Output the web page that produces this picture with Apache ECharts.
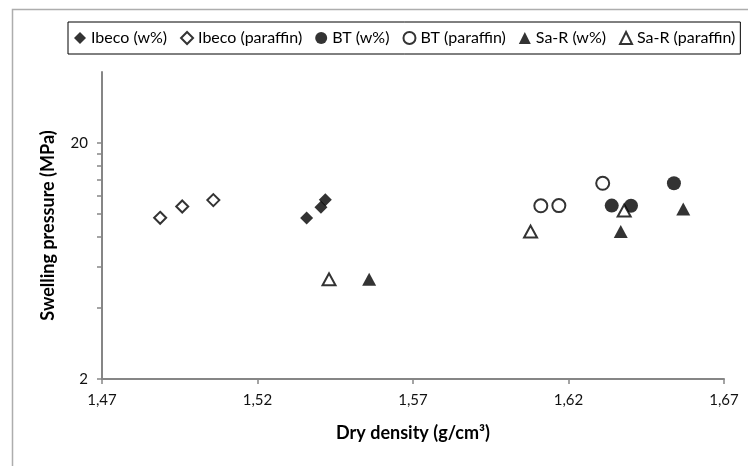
<!DOCTYPE html>
<html>
<head>
<meta charset="utf-8">
<script src="https://cdn.jsdelivr.net/npm/echarts@6/dist/echarts.min.js"></script>
<style>
  html, body { margin: 0; padding: 0; background: #fff; }
  #chart { width: 748px; height: 466px; }
</style>
</head>
<body>
<div id="chart"></div>
<script>
// Dry density (g/cm3) and swelling pressure (MPa) per material / method
const ibecoWX = [1.5358, 1.5404, 1.5418];
const ibecoWY = [9.62, 10.7, 11.5];
const ibecoPX = [1.4887, 1.4958, 1.5058];
const ibecoPY = [9.64, 10.77, 11.46];
const btWX = [1.6339, 1.6401, 1.6539];
const btWY = [10.86, 10.84, 13.5];
const btPX = [1.6111, 1.6169, 1.6310];
const btPY = [10.84, 10.86, 13.5];
const sarWX = [1.5559, 1.6368, 1.6569];
const sarWY = [5.29, 8.43, 10.5];
const sarPX = [1.5430, 1.6078, 1.6379];
const sarPY = [5.29, 8.43, 10.35];

const yLabels = [2, 20];
const yTicks = [2, 4, 6, 8, 10, 12, 14, 16, 18, 20];

const FONT = 'Lato';
const zip = (xs, ys) => xs.map((x, i) => [x, ys[i]]);

const filled = { color: '#000', borderColor: '#000', borderWidth: 0 };
const hollow = { color: '#fff', borderColor: '#000', borderWidth: 2 };

function scatter(name, xs, ys, symbol, size, style) {
  return {
    name, type: 'scatter', symbol, symbolSize: size,
    data: zip(xs, ys), itemStyle: style, emphasis: { disabled: true }
  };
}

const chart = echarts.init(document.getElementById('chart'));
chart.setOption({
  animation: false,
  textStyle: { fontFamily: FONT },
  graphic: [{
    type: 'rect', left: 10, top: 7,
    shape: { width: 760, height: 480 },
    style: { fill: 'none', stroke: '#adadad', lineWidth: 1.5 },
    silent: true
  }],
  legend: {
    left: 68, top: 22,
    padding: [8, 5, 8, 6],
    itemGap: 13,
    itemWidth: 12, itemHeight: 12,
    borderColor: '#000', borderWidth: 1,
    textStyle: { fontFamily: FONT, fontSize: 16, color: '#000' },
    data: ['Ibeco (w%)', 'Ibeco (paraffin)', 'BT (w%)', 'BT (paraffin)', 'Sa-R (w%)', 'Sa-R (paraffin)']
  },
  grid: { left: 102, top: 72, right: 24, bottom: 87 },
  xAxis: {
    type: 'value', min: 1.47, max: 1.67, interval: 0.05,
    name: 'Dry density (g/cm³)', nameLocation: 'middle', nameGap: 45,
    nameTextStyle: { fontFamily: FONT, fontSize: 18, fontWeight: 'bold', color: '#000' },
    axisLine: { lineStyle: { color: '#868686', width: 2 } },
    axisTick: { show: true, inside: false, length: 5, lineStyle: { color: '#868686', width: 1.5 } },
    axisLabel: {
      fontSize: 15, color: '#111', margin: 14, fontFamily: FONT,
      formatter: v => v.toFixed(2).replace('.', ',')
    },
    splitLine: { show: false }
  },
  yAxis: {
    type: 'log', logBase: 10, min: 2, max: 40,
    name: 'Swelling pressure (MPa)', nameLocation: 'middle', nameGap: 45, nameRotate: 90,
    nameTextStyle: { fontFamily: FONT, fontSize: 18, fontWeight: 'bold', color: '#000' },
    axisLine: { show: true, lineStyle: { color: '#868686', width: 2 } },
    axisTick: { show: true, inside: false, length: 5, customValues: yTicks, lineStyle: { color: '#868686', width: 1.5 } },
    axisLabel: { fontSize: 15, color: '#111', margin: 14, fontFamily: FONT, customValues: yLabels },
    splitLine: { show: false },
    minorTick: { show: false }
  },
  series: [
    scatter('Ibeco (w%)', ibecoWX, ibecoWY, 'diamond', 13, filled),
    scatter('Ibeco (paraffin)', ibecoPX, ibecoPY, 'diamond', 12, hollow),
    scatter('BT (w%)', btWX, btWY, 'circle', 14, filled),
    scatter('BT (paraffin)', btPX, btPY, 'circle', 13, hollow),
    scatter('Sa-R (w%)', sarWX, sarWY, 'triangle', [14, 13], filled),
    scatter('Sa-R (paraffin)', sarPX, sarPY, 'triangle', [13, 12], hollow)
  ]
});
</script>
</body>
</html>
